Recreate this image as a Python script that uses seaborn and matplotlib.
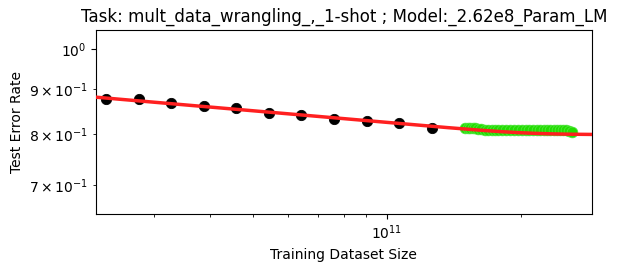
import numpy as np
import pandas as pd
import matplotlib
matplotlib.use('Agg')
import matplotlib.pyplot as plt
import seaborn as sns

# observed points (training dataset size vs test error rate)
train_size = [2.34e10, 2.77e10, 3.27e10, 3.88e10, 4.58e10, 5.43e10,
              6.41e10, 7.60e10, 9.01e10, 1.064e11, 1.262e11]
train_err = [0.877, 0.877, 0.868, 0.861, 0.856, 0.846,
             0.841, 0.833, 0.828, 0.824, 0.813]

# extrapolated / predicted points (green band)
pred_size = [1.50e11, 1.52e11, 1.54e11, 1.56e11, 1.58e11, 1.60e11, 1.63e11,
             1.66e11, 1.69e11, 1.72e11, 1.75e11, 1.78e11, 1.81e11, 1.85e11,
             1.89e11, 1.93e11, 1.97e11, 2.01e11, 2.05e11, 2.09e11, 2.13e11,
             2.17e11, 2.21e11, 2.25e11, 2.29e11, 2.33e11, 2.37e11, 2.41e11,
             2.45e11, 2.49e11, 2.53e11, 2.57e11, 2.61e11]
pred_err = [0.814, 0.814, 0.814, 0.814, 0.813, 0.811, 0.810, 0.809, 0.809,
            0.809, 0.809, 0.809, 0.809, 0.809, 0.809, 0.809, 0.809, 0.809,
            0.809, 0.809, 0.809, 0.809, 0.809, 0.809, 0.809, 0.809, 0.809,
            0.809, 0.809, 0.809, 0.808, 0.807, 0.804]

# fit: power law a * (x/1e11)^b, softly bounded below by a floor
fit_a = 0.8250
fit_b = -0.044
fit_floor = 0.7991
fit_soft = 0.006

xlim = (2.22e10, 2.89e11)
ylim = (0.649, 1.051)


def fit_curve(x):
    lp = np.log10(fit_a) + fit_b * np.log10(x / 1e11)
    lf = np.log10(fit_floor)
    return 10 ** (lf + fit_soft * np.log10(1 + 10 ** ((lp - lf) / fit_soft)))


train = pd.DataFrame({'size': train_size, 'err': train_err})
pred = pd.DataFrame({'size': pred_size, 'err': pred_err})
xs = np.geomspace(xlim[0], xlim[1], 300)
fit = pd.DataFrame({'size': xs, 'err': fit_curve(xs)})

fig = plt.figure(figsize=(6.18, 2.73), dpi=100)
ax = fig.add_axes([0.155, 0.216, 0.803, 0.674])

sns.scatterplot(data=pred, x='size', y='err', color='#22dd00', s=60,
                edgecolor='#55e644', linewidth=0.5, ax=ax, zorder=2)
sns.scatterplot(data=train, x='size', y='err', color='black', s=55,
                edgecolor='black', ax=ax, zorder=3)
sns.lineplot(data=fit, x='size', y='err', color='#ff2020', linewidth=2.5,
             ax=ax, zorder=4)

ax.set_xscale('log')
ax.set_yscale('log')
ax.set_xlim(xlim)
ax.set_ylim(ylim)
ax.set_xlabel('Training Dataset Size')
ax.set_ylabel('Test Error Rate')
ax.set_title('Task: mult_data_wrangling_,_1-shot ; Model:_2.62e8_Param_LM')

plt.savefig('out.png', dpi=100)
